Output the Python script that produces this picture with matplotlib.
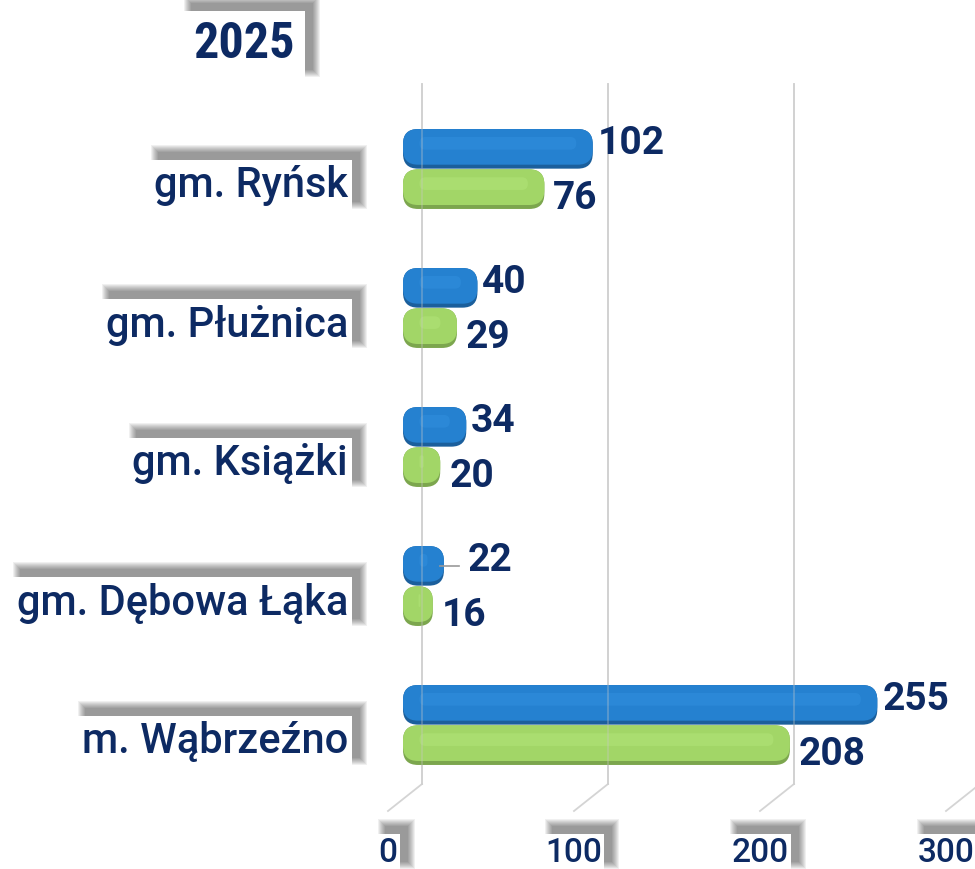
import matplotlib
matplotlib.use("Agg")
import matplotlib.pyplot as plt
import matplotlib.transforms as mtransforms
from matplotlib.patches import FancyBboxPatch, Rectangle
from matplotlib import font_manager as fm

categories = ["gm. Ryńsk", "gm. Płużnica", "gm. Książki", "gm. Dębowa Łąka", "m. Wąbrzeźno"]
series_blue = [102, 40, 34, 22, 255]
series_green = [76, 29, 20, 16, 208]
ticks = [0, 100, 200, 300]
tick_labels = ["0", "100", "200", "300"]
title = "2025"

names = {f.name for f in fm.fontManager.ttflist}
FONT_C = "Roboto"
for cand in ["Roboto Condensed", "Liberation Sans Narrow", "Roboto"]:
    if cand in names:
        FONT_C = cand
        break
FONT = "Roboto"

NAVY = "#0d2a63"
W, H = 975, 870
fig = plt.figure(figsize=(W / 100, H / 100), dpi=100)
ax = fig.add_axes([0, 0, 1, 1])
ax.axis("off")

PX = 1.86          # pixels per data unit (x)
X0 = 403           # pixel of x=0 (front of bars)
ax.set_xlim(-X0 / PX, (W - X0) / PX)
GY0, GSTEP = 170, 139
ax.set_ylim((H - GY0) / GSTEP, -GY0 / GSTEP)

def py(p):
    return (p - GY0) / GSTEP

# gridlines (back plane) and floor diagonals
back = mtransforms.offset_copy(ax.transData, fig, x=19, y=0, units="dots")
for t in ticks:
    ax.plot([t, t], [py(85), py(785)], color="#d4d4d4", lw=1.3, transform=back, zorder=1)
    ax.plot([t, t], [py(85), py(785)], color="#c8c8c8", lw=1.3, transform=back, zorder=3.5, alpha=0.35)
    ax.plot([t + 19 / PX, t - 15 / PX], [py(785), py(812)], color="#d4d4d4", lw=1.3, zorder=1)

mut = (1 / GSTEP) / (1 / PX)
BH = 0.285

def capsule(x, yc, color_main, color_dark, color_hi):
    r = min(15 / PX, x / 2.1)
    base = FancyBboxPatch((0, yc - BH / 2), x, BH,
                          boxstyle=f"round,pad=0,rounding_size={r}",
                          mutation_aspect=mut, fc=color_dark, ec="none", zorder=3)
    ax.add_patch(base)
    top = FancyBboxPatch((0, yc - BH / 2), x, BH * 0.9,
                         boxstyle=f"round,pad=0,rounding_size={r}",
                         mutation_aspect=mut, fc=color_main, ec="none", zorder=3.1)
    ax.add_patch(top)
    hi_len = max(x - 2.2 * r, 1.0)
    hi = FancyBboxPatch((r * 1.1, yc - BH * 0.30), hi_len, BH * 0.32,
                        boxstyle=f"round,pad=0,rounding_size={min(6 / PX, hi_len / 2)}",
                        mutation_aspect=mut, fc=color_hi, ec="none", alpha=0.3, zorder=3.2)
    ax.add_patch(hi)

for i, (b, g) in enumerate(zip(series_blue, series_green)):
    capsule(b, i - 0.145, "#2581d0", "#1b5f9c", "#3a9be8")
    capsule(g, i + 0.145, "#a2d667", "#7ca64e", "#bdef85")

boxed = []

def box_text(x, y, s, size, weight, ha, transform, pad=0.15, family=FONT):
    t = ax.text(x, y, s, fontsize=size, fontweight=weight, family=family, ha=ha, va="center",
                color=NAVY, transform=transform, zorder=7,
                bbox=dict(boxstyle=f"square,pad={pad}", fc="white", ec="none"))
    boxed.append(t)
    return t

# category labels
lab_tr = mtransforms.blended_transform_factory(fig.transFigure, ax.transData)
for i, c in enumerate(categories):
    box_text(348 / W, i + py(186) - py(GY0), c, 30, "medium", "right", lab_tr, pad=0.1)

# value labels
for i, (b, g) in enumerate(zip(series_blue, series_green)):
    if b < 25:
        ax.plot([b - 4 / PX, b + 15 / PX], [i - 0.145, i - 0.145], color="#999999", lw=1.2, zorder=4)
        bx = b + 24 / PX
    else:
        bx = b + 5 / PX
    ax.text(bx, i - 0.145 - 6 / GSTEP, str(b), fontsize=28, fontweight="bold", family=FONT,
            color=NAVY, ha="left", va="center", zorder=8)
    ax.text(g + 9 / PX, i + 0.145 + 8 / GSTEP, str(g), fontsize=28, fontweight="bold", family=FONT,
            color=NAVY, ha="left", va="center", zorder=8)

# tick labels
for t, tl in zip(ticks, tick_labels):
    box_text(t - 15 / PX, py(853), tl, 24, "medium", "center", ax.transData, pad=0.06)

# title
box_text(244 / W, 1 - 45 / H, title, 36, "bold", "center", fig.transFigure, pad=0.2, family=FONT_C)

# soft shadows behind the boxes (up-right)
fig.canvas.draw()
rend = fig.canvas.get_renderer()
ident = mtransforms.IdentityTransform()
for t in boxed:
    bb = t.get_bbox_patch().get_window_extent(rend)
    for grow in range(8):
        ax.add_patch(Rectangle((bb.x0 + 8 - grow, bb.y0 + 8 - grow),
                               bb.width + 2 * grow, bb.height + 2 * grow,
                               transform=ident, fc="black", ec="none",
                               alpha=0.06, zorder=5, clip_on=False))

fig.savefig("out.png", dpi=100)
